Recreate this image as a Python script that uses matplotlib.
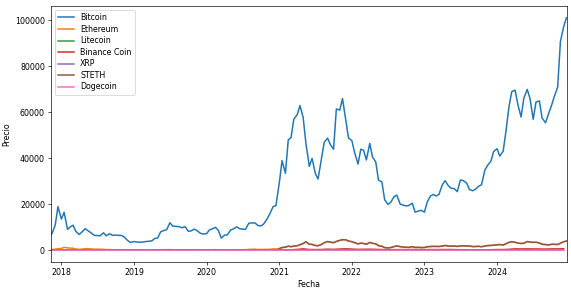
import pandas as pd
import numpy as np
import matplotlib
matplotlib.use("Agg")
import matplotlib.pyplot as plt

# Semi-monthly dates (1st and 15th) for the big series
dates = pd.date_range("2017-11-01", "2024-12-16", freq="SMS")
# Monthly dates for the small coins
dates_m = pd.date_range("2017-11-01", "2024-12-01", freq="MS")

bitcoin = [
    6700, 7300, 10900, 19000,
    # 2018
    13600, 16500, 9100, 10200, 10900, 8200, 6900, 8000, 9400, 8500, 7500, 6500,
    6400, 6300, 7600, 6300, 7200, 6500, 6600, 6500, 6400, 5600, 4200, 3400,
    # 2019
    3800, 3600, 3500, 3600, 3800, 3900, 4100, 5100, 5400, 8000, 8600, 9000,
    12000, 10500, 10400, 10300, 9800, 10300, 8300, 8400, 9200, 8500, 7400, 7100,
    # 2020
    7200, 8800, 9400, 10000, 8600, 5300, 6600, 6700, 8800, 9300, 10200, 9400,
    9200, 9100, 11800, 11900, 11900, 10800, 10600, 11500, 13700, 16000, 19000, 19400,
    # 2021
    29300, 39000, 33500, 48000, 49000, 57000, 59000, 63000, 57800, 46500, 36500, 40000,
    33500, 31000, 39800, 47000, 48800, 46000, 44000, 61500, 61000, 66000, 57000, 48900,
    # 2022
    47700, 42500, 37500, 44000, 43500, 39300, 46500, 40500, 38500, 30500, 29800, 22000,
    20000, 20800, 23300, 24000, 20100, 19700, 19300, 19500, 20500, 16600, 17000, 17400,
    # 2023
    16600, 21000, 23700, 24300, 23600, 24300, 28500, 30300, 28100, 27000, 26800, 25500,
    30600, 30300, 29300, 26500, 25900, 26600, 27900, 28500, 34900, 37000, 38700, 43000,
    # 2024
    44200, 41000, 43100, 51800, 62400, 69000, 69700, 63400, 58000, 66200, 70000, 66000,
    57000, 64500, 65000, 57500, 55500, 59100, 63000, 66900, 71000, 91000, 97200, 101200,
]

ethereum = [
    290, 330, 460, 700,
    # 2018
    770, 1300, 1030, 930, 870, 610, 380, 500, 670, 700, 580, 500,
    450, 450, 420, 280, 290, 220, 230, 200, 200, 180, 115, 85,
    # 2019
    140, 125, 105, 120, 135, 140, 140, 165, 160, 220, 265, 255,
    295, 230, 215, 185, 170, 195, 175, 180, 180, 185, 150, 140,
    # 2020
    130, 165, 180, 285, 220, 125, 135, 155, 210, 200, 230, 230,
    225, 240, 385, 430, 475, 365, 360, 375, 395, 450, 590, 590,
    # 2021
    730, 1170, 1370, 1780, 1570, 1790, 1970, 2430, 2950, 3700, 2630, 2570,
    2110, 1990, 2560, 3310, 3830, 3610, 3310, 3860, 4320, 4640, 4590, 4020,
    # 2022
    3770, 3330, 2790, 3130, 2970, 2620, 3450, 3040, 2830, 2060, 1820, 1230,
    1070, 1190, 1630, 1900, 1590, 1470, 1310, 1270, 1580, 1250, 1280, 1190,
    # 2023
    1200, 1550, 1640, 1700, 1660, 1650, 1820, 2090, 1830, 1820, 1860, 1660,
    1920, 1930, 1860, 1820, 1630, 1640, 1730, 1550, 1850, 2060, 2090, 2220,
    # 2024
    2350, 2510, 2300, 2830, 3430, 3740, 3500, 3100, 2970, 3040, 3810, 3570,
    3440, 3490, 3200, 2580, 2510, 2320, 2600, 2600, 2510, 3100, 3700, 4000,
]

# STETH only listed from 2021 (NaN before)
steth_2021_on = [
    # 2021
    740, 1180, 1360, 1770, 1560, 1780, 1960, 2420, 2930, 3680, 2600, 2540,
    2080, 1950, 2510, 3250, 3780, 3560, 3270, 3820, 4280, 4600, 4550, 3990,
    # 2022
    3740, 3300, 2760, 3090, 2930, 2580, 3400, 3000, 2780, 1980, 1700, 1130,
    1010, 1140, 1590, 1860, 1560, 1440, 1290, 1250, 1560, 1230, 1260, 1180,
    # 2023
    1190, 1540, 1630, 1690, 1650, 1640, 1810, 2080, 1820, 1810, 1850, 1650,
    1910, 1920, 1850, 1810, 1620, 1630, 1720, 1540, 1840, 2050, 2080, 2210,
    # 2024
    2340, 2500, 2290, 2820, 3420, 3730, 3490, 3090, 2960, 3030, 3800, 3560,
    3430, 3480, 3190, 2570, 2500, 2310, 2590, 2590, 2500, 3090, 3690, 3990,
]
steth = [np.nan] * (len(dates) - len(steth_2021_on)) + steth_2021_on

litecoin = [
    55, 100,
    230, 160, 220, 115, 150, 120, 100, 80, 75, 60, 50, 30,
    30, 33, 46, 60, 75, 105, 120, 90, 65, 56, 60, 47,
    42, 68, 60, 40, 45, 45, 42, 57, 60, 45, 55, 88,
    125, 150, 180, 200, 280, 175, 145, 145, 170, 150, 200, 210,
    145, 115, 110, 125, 100, 65, 55, 60, 60, 53, 55, 65,
    70, 95, 90, 93, 88, 90, 110, 90, 65, 65, 68, 70,
    73, 68, 70, 100, 80, 83, 75, 68, 65, 65, 68, 100,
]

binance = [
    1.5, 2,
    8.5, 11, 10, 12, 12, 14, 15, 12, 10, 10, 10, 6,
    5, 6, 10, 17, 23, 33, 33, 29, 25, 16, 20, 15,
    14, 17, 21, 12, 15, 17, 16, 22, 24, 29, 31, 31,
    38, 42, 230, 370, 600, 340, 300, 330, 470, 380, 530, 630,
    510, 380, 420, 450, 390, 320, 220, 280, 280, 290, 320, 290,
    245, 310, 290, 320, 330, 305, 240, 240, 215, 215, 230, 230,
    310, 300, 410, 610, 580, 600, 580, 560, 510, 600, 580, 650,
]

xrp = [
    0.2, 0.25,
    2.3, 1.1, 0.9, 0.5, 0.8, 0.6, 0.47, 0.44, 0.33, 0.58, 0.45, 0.37,
    0.35, 0.31, 0.31, 0.32, 0.3, 0.38, 0.4, 0.31, 0.26, 0.25, 0.29, 0.22,
    0.19, 0.24, 0.24, 0.17, 0.2, 0.2, 0.18, 0.25, 0.29, 0.24, 0.24, 0.6,
    0.22, 0.48, 0.43, 0.57, 1.6, 0.95, 0.65, 0.75, 1.2, 0.95, 1.1, 0.9,
    0.83, 0.6, 0.77, 0.83, 0.6, 0.39, 0.31, 0.38, 0.33, 0.48, 0.46, 0.39,
    0.34, 0.43, 0.38, 0.54, 0.47, 0.46, 0.47, 0.72, 0.5, 0.51, 0.6, 0.62,
    0.62, 0.5, 0.57, 0.63, 0.5, 0.52, 0.47, 0.61, 0.57, 0.58, 0.5, 1.9,
]

dogecoin = [
    0.001, 0.002,
    0.009, 0.006, 0.005, 0.003, 0.005, 0.004, 0.003, 0.003, 0.002, 0.006, 0.005, 0.003,
    0.002, 0.002, 0.002, 0.002, 0.003, 0.003, 0.003, 0.003, 0.003, 0.002, 0.003, 0.002,
    0.002, 0.002, 0.003, 0.002, 0.002, 0.003, 0.003, 0.004, 0.003, 0.003, 0.003, 0.003,
    0.005, 0.037, 0.05, 0.06, 0.39, 0.33, 0.25, 0.2, 0.3, 0.2, 0.27, 0.2,
    0.17, 0.14, 0.14, 0.14, 0.13, 0.08, 0.06, 0.07, 0.06, 0.06, 0.14, 0.08,
    0.07, 0.09, 0.08, 0.08, 0.07, 0.07, 0.07, 0.08, 0.06, 0.06, 0.07, 0.09,
    0.09, 0.08, 0.17, 0.2, 0.13, 0.16, 0.12, 0.12, 0.1, 0.12, 0.16, 0.42,
]

plt.rcParams['font.size'] = 9.5
plt.rcParams['lines.linewidth'] = 1.8

fig, ax = plt.subplots(figsize=(571 / 60, 291 / 60), dpi=60)
fig.subplots_adjust(left=0.089, right=0.993, top=0.979, bottom=0.1)

ax.plot(dates, bitcoin, label="Bitcoin")
ax.plot(dates, ethereum, label="Ethereum")
ax.plot(dates_m, litecoin, label="Litecoin")
ax.plot(dates_m, binance, label="Binance Coin")
ax.plot(dates_m, xrp, label="XRP")
ax.plot(dates, steth, label="STETH")
ax.plot(dates_m, dogecoin, label="Dogecoin")

ax.set_xlim(pd.Timestamp("2017-11-09"), pd.Timestamp("2024-12-18"))
ax.set_xlabel("Fecha")
ax.set_ylabel("Precio")
ax.legend(loc="upper left", labelspacing=0.32)

fig.savefig("out.png", dpi=60)
